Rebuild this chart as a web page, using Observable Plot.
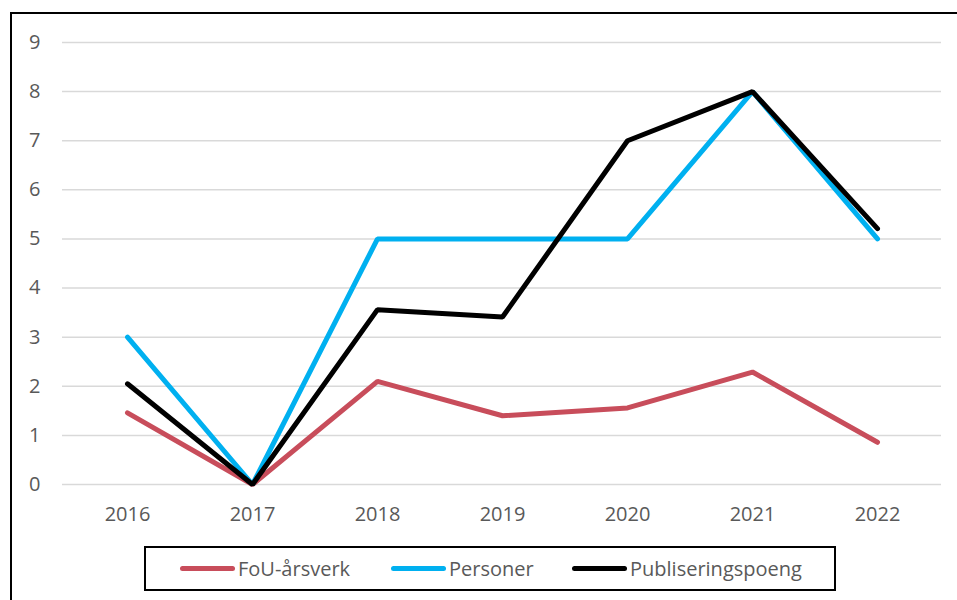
<!DOCTYPE html>
<html>
<head>
<meta charset="utf-8">
<script src="https://cdn.jsdelivr.net/npm/d3@7"></script>
<script src="https://cdn.jsdelivr.net/npm/@observablehq/plot@0.6"></script>
<style>
  html, body { margin: 0; padding: 0; background: #fff; }
  #wrap { position: relative; width: 957px; height: 600px; overflow: hidden; font-family: "Open Sans", sans-serif; }
  #frame { position: absolute; left: 10px; top: 12px; width: 980px; height: 620px; border: 2px solid #000; box-sizing: border-box; }
  #chart { position: absolute; left: 0; top: 0; }
  #legend { position: absolute; left: 144px; top: 546px; width: 692px; height: 45px; border: 2px solid #000; box-sizing: border-box; background: #fff;
            display: flex; align-items: center; font-size: 20px; color: #595959; }
  .item { position: absolute; display: flex; align-items: center; top: 0; height: 41px; }
  .sw { width: 55px; height: 5px; border-radius: 3px; margin-right: 3px; }
</style>
</head>
<body>
<div id="wrap">
  <div id="frame"></div>
  <div id="chart"></div>
  <div id="legend"></div>
</div>
<script>
const years = ["2016", "2017", "2018", "2019", "2020", "2021", "2022"];
const seriesNames = ["FoU-årsverk", "Personer", "Publiseringspoeng"];
const fouValues = [1.46, 0, 2.1, 1.4, 1.56, 2.29, 0.86];
const personerValues = [3, 0, 5, 5, 5, 8, 5];
const publValues = [2.05, 0, 3.56, 3.41, 7, 8, 5.21];
const yTicks = [0, 1, 2, 3, 4, 5, 6, 7, 8, 9];
const colors = ["#C84D5B", "#00B0F0", "#000000"];

const allValues = [fouValues, personerValues, publValues];
const data = [];
seriesNames.forEach((s, i) => years.forEach((y, j) => data.push({series: s, year: y, value: allValues[i][j]})));

const plot = Plot.plot({
  width: 957,
  height: 530,
  marginLeft: 62,
  marginRight: 16,
  marginTop: 42,
  marginBottom: 46,
  style: { fontFamily: "Open Sans, sans-serif", fontSize: "20px", color: "#595959", background: "transparent" },
  x: { type: "point", domain: years, padding: 0.5, label: null },
  y: { domain: [0, 9], label: null },
  color: { domain: seriesNames, range: colors },
  marks: [
    Plot.ruleY(yTicks, { stroke: "#D9D9D9", strokeWidth: 1.5, strokeOpacity: 1 }),
    Plot.axisY({ ticks: yTicks, tickSize: 0, tickPadding: 22, label: null, fill: "#595959", fontSize: 20 }),
    Plot.axisX({ tickSize: 0, tickPadding: 22, label: null, fill: "#595959", fontSize: 20 }),
    Plot.line(data, { x: "year", y: "value", z: "series", stroke: "series", strokeWidth: 5, strokeLinejoin: "miter", strokeLinecap: "round" })
  ]
});
document.getElementById("chart").appendChild(plot);

const legend = document.getElementById("legend");
const lefts = [34, 245, 426];
seriesNames.forEach((s, i) => {
  const it = document.createElement("div");
  it.className = "item";
  it.style.left = lefts[i] + "px";
  const sw = document.createElement("div");
  sw.className = "sw";
  sw.style.background = colors[i];
  const t = document.createElement("span");
  t.textContent = s;
  it.appendChild(sw);
  it.appendChild(t);
  legend.appendChild(it);
});
</script>
</body>
</html>
